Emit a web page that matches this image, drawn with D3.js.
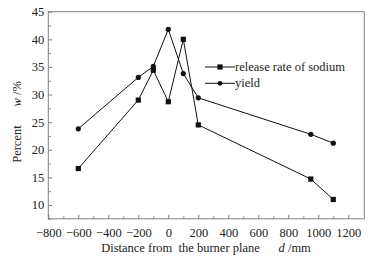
<!DOCTYPE html>
<html>
<head>
<meta charset="utf-8">
<script src="https://cdn.jsdelivr.net/npm/d3@7"></script>
<style>
  body { margin: 0; background: #fff; }
  svg { display: block; }
</style>
</head>
<body>
<div id="chart"></div>
<script>
// Data
const distance = [-600, -200, -100, 0, 100, 200, 950, 1100];
const sodium = [16.6, 29.0, 34.4, 28.7, 40.0, 24.5, 14.7, 11.0];
const yieldVals = [23.8, 33.1, 35.1, 41.8, 33.8, 29.4, 22.8, 21.2];
const xTicks = [-800, -600, -400, -200, 0, 200, 400, 600, 800, 1000, 1200];
const yTicks = [10, 15, 20, 25, 30, 35, 40, 45];

const width = 375;
const height = 260;
const plotLeft = 48.3, plotRight = 364.3, plotTop = 11.7, plotBottom = 218.8;
const serif = "'Liberation Serif', 'Times New Roman', serif";

const svg = d3.select("#chart")
    .append("svg")
    .attr("width", width)
    .attr("height", height)
    .style("font-family", serif);

// x runs past the last labelled tick to the frame edge
const x = d3.scaleLinear()
    .domain([-800, -800 + (plotRight - plotLeft) / 0.15])
    .range([plotLeft, plotRight]);

const y = d3.scaleLinear()
    .domain([7.5, 45])
    .range([plotBottom, plotTop]);

const frameColor = "#808080";
const textColor = "#222";

// frame
svg.append("rect")
    .attr("x", plotLeft)
    .attr("y", plotTop)
    .attr("width", plotRight - plotLeft)
    .attr("height", plotBottom - plotTop)
    .attr("fill", "none")
    .attr("stroke", frameColor)
    .attr("stroke-width", 1);

// x axis, ticks point inward
const xAxis = svg.append("g")
    .attr("transform", `translate(0,${plotBottom})`)
    .call(d3.axisBottom(x).tickValues(xTicks).tickSize(-4).tickPadding(9).tickFormat(d3.format("d")));
xAxis.append("g")
    .call(d3.axisBottom(x).tickValues(d3.range(-700, 1300, 200)).tickSize(-2.5).tickFormat(""));

// y axis
const yAxis = svg.append("g")
    .attr("transform", `translate(${plotLeft},0)`)
    .call(d3.axisLeft(y).tickValues(yTicks).tickSize(-4).tickPadding(4));
yAxis.append("g")
    .call(d3.axisLeft(y).tickValues(d3.range(7.5, 45, 2.5).filter(v => v % 5 !== 0)).tickSize(-2.5).tickFormat(""));

svg.selectAll(".domain").remove();
svg.selectAll(".tick line").attr("stroke", frameColor);
svg.selectAll("g").attr("font-family", null);
svg.selectAll(".tick text")
    .attr("fill", textColor)
    .style("font-size", "12.5px")
    .style("font-family", serif);

// axis titles
svg.append("text")
    .attr("x", 206)
    .attr("y", 252)
    .attr("text-anchor", "middle")
    .attr("fill", textColor)
    .style("font-size", "12.5px")
    .style("white-space", "pre")
    .html("Distance from  the burner plane      <tspan font-style='italic'>d</tspan> /mm");

svg.append("text")
    .attr("transform", "translate(21,122) rotate(-90)")
    .attr("text-anchor", "middle")
    .attr("fill", textColor)
    .style("font-size", "12.5px")
    .style("white-space", "pre")
    .html("Percent      <tspan font-style='italic'>w</tspan> /%");

// series
const line = d3.line()
    .x((d, i) => x(distance[i]))
    .y(d => y(d));

const series = [
    { name: "release rate of sodium", values: sodium, marker: "square" },
    { name: "yield", values: yieldVals, marker: "circle" }
];

series.forEach(s => {
    svg.append("path")
        .datum(s.values)
        .attr("fill", "none")
        .attr("stroke", "#111")
        .attr("stroke-width", 1)
        .attr("d", line);

    if (s.marker === "square") {
        svg.append("g").selectAll("rect")
            .data(s.values)
            .join("rect")
            .attr("x", (d, i) => x(distance[i]) - 2.6)
            .attr("y", d => y(d) - 2.6)
            .attr("width", 5.2)
            .attr("height", 5.2)
            .attr("fill", "#111");
    } else {
        svg.append("g").selectAll("circle")
            .data(s.values)
            .join("circle")
            .attr("cx", (d, i) => x(distance[i]))
            .attr("cy", d => y(d))
            .attr("r", 2.6)
            .attr("fill", "#111");
    }
});

// legend
const legend = svg.append("g").attr("transform", "translate(205,67)");
series.forEach((s, i) => {
    const g = legend.append("g").attr("transform", `translate(0,${i * 16.3})`);
    g.append("line")
        .attr("x1", 0).attr("x2", 30)
        .attr("stroke", "#111").attr("stroke-width", 1);
    if (s.marker === "square") {
        g.append("rect").attr("x", 12.4).attr("y", -2.6).attr("width", 5.2).attr("height", 5.2).attr("fill", "#111");
    } else {
        g.append("circle").attr("cx", 15).attr("r", 2.4).attr("fill", "#111");
    }
    g.append("text")
        .attr("x", 30)
        .attr("y", 4)
        .attr("fill", textColor)
        .style("font-size", "12.5px")
        .text(s.name);
});
</script>
</body>
</html>
